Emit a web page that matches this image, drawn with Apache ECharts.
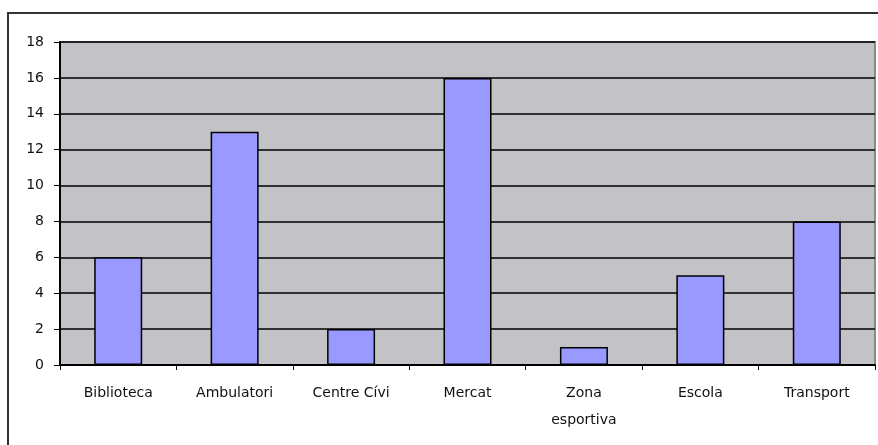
<!DOCTYPE html>
<html>
<head>
<meta charset="utf-8">
<script src="https://cdn.jsdelivr.net/npm/echarts@6/dist/echarts.min.js"></script>
<style>
html,body{margin:0;padding:0;background:#fff;}
#chart{width:878px;height:445px;}
</style>
</head>
<body>
<div id="chart"></div>
<script>
const categories = ['Biblioteca', 'Ambulatori', 'Centre Cívi', 'Mercat', 'Zona\nesportiva', 'Escola', 'Transport'];
const values = [6, 13, 2, 16, 1, 5, 8];
const yTicks = [0, 2, 4, 6, 8, 10, 12, 14, 16, 18];

const chart = echarts.init(document.getElementById('chart'), null, {renderer: 'canvas'});
chart.setOption({
  backgroundColor: '#ffffff',
  animation: false,
  graphic: [{
    type: 'rect',
    shape: {x: 8, y: 13, width: 900, height: 500},
    style: {fill: 'none', stroke: '#333333', lineWidth: 2},
    z: 100
  }],
  grid: {
    left: 60, top: 42, right: 3, bottom: 80,
    show: true,
    backgroundColor: '#C3C2C6',
    borderColor: '#8a8a8a',
    borderWidth: 2
  },
  xAxis: {
    type: 'category',
    data: categories,
    boundaryGap: true,
    axisLine: {show: true, lineStyle: {color: '#000', width: 2}},
    axisTick: {show: true, length: 5, lineStyle: {color: '#000', width: 1}},
    axisLabel: {
      interval: 0,
      margin: 15,
      color: '#111',
      fontFamily: 'DejaVu Sans, sans-serif',
      fontSize: 14,
      lineHeight: 27
    },
    splitLine: {show: false}
  },
  yAxis: {
    type: 'value',
    min: yTicks[0],
    max: yTicks[yTicks.length - 1],
    interval: 2,
    axisLine: {show: true, lineStyle: {color: '#000', width: 2}},
    axisTick: {show: true, length: 6, lineStyle: {color: '#000', width: 1}},
    axisLabel: {
      margin: 16,
      color: '#111',
      fontFamily: 'DejaVu Sans, sans-serif',
      fontSize: 14
    },
    splitLine: {show: true, lineStyle: {color: '#000', width: 1.5}}
  },
  series: [{
    type: 'bar',
    data: values,
    barWidth: 48,
    itemStyle: {color: '#9999FF', borderColor: '#000', borderWidth: 1.5}
  }]
});
</script>
</body>
</html>
